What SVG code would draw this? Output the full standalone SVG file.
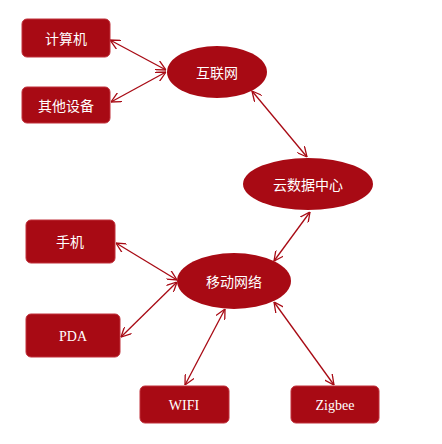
<svg xmlns="http://www.w3.org/2000/svg" width="442" height="444" viewBox="0 0 442 444">
<defs>
<marker id="arr" viewBox="0 0 10 10" refX="10" refY="5" markerWidth="10" markerHeight="10" markerUnits="userSpaceOnUse" orient="auto-start-reverse">
<path d="M0,0 L10,5 L0,10" fill="none" stroke="#A80A14" stroke-width="1.3"/>
</marker>
</defs>
<style>
.box{fill:#A80A14;stroke:#C0303A;stroke-width:1}
.ell{fill:#A80A14}
.zh{fill:#fff;font-family:"Noto Sans CJK SC",sans-serif;font-size:14px;text-anchor:middle;dominant-baseline:central}
.en{fill:#fff;font-family:"Liberation Serif",serif;font-size:14px;text-anchor:middle;dominant-baseline:central}
.c{stroke:#A80A14;stroke-width:1.3;fill:none;marker-start:url(#arr);marker-end:url(#arr)}
</style>
<rect width="442" height="444" fill="#fff"/>
<g id="connectors">
<line class="c" x1="110" y1="40" x2="166" y2="70"/>
<line class="c" x1="111" y1="102" x2="166" y2="72"/>
<line class="c" x1="252" y1="91" x2="307" y2="157"/>
<line class="c" x1="310" y1="212" x2="274" y2="261"/>
<line class="c" x1="116" y1="243" x2="177" y2="280"/>
<line class="c" x1="121" y1="337" x2="177" y2="282"/>
<line class="c" x1="185" y1="385" x2="225" y2="309"/>
<line class="c" x1="334" y1="385" x2="274" y2="302"/>
</g>
<g id="jisuanji"><rect class="box" x="22" y="19" width="88" height="38" rx="5"/><text class="zh" x="66" y="38">计算机</text></g>
<g id="qitashebei"><rect class="box" x="22" y="87" width="88" height="36" rx="5"/><text class="zh" x="66" y="105">其他设备</text></g>
<g id="hulianwang"><ellipse class="ell" cx="217" cy="72" rx="50" ry="26"/><text class="zh" x="217" y="72">互联网</text></g>
<g id="yunshuju"><ellipse class="ell" cx="308" cy="184" rx="65" ry="26"/><text class="zh" x="308" y="184">云数据中心</text></g>
<g id="yidong"><ellipse class="ell" cx="234" cy="281" rx="57" ry="28"/><text class="zh" x="234" y="281">移动网络</text></g>
<g id="shouji"><rect class="box" x="26" y="220" width="89" height="43" rx="5"/><text class="zh" x="70" y="241">手机</text></g>
<g id="pda"><rect class="box" x="26" y="314" width="94" height="43" rx="5"/><text class="en" x="73" y="336">PDA</text></g>
<g id="wifi"><rect class="box" x="140" y="386" width="89" height="37" rx="5"/><text class="en" x="184" y="405">WIFI</text></g>
<g id="zigbee"><rect class="box" x="291" y="386" width="88" height="37" rx="5"/><text class="en" x="335" y="405">Zigbee</text></g>
</svg>
